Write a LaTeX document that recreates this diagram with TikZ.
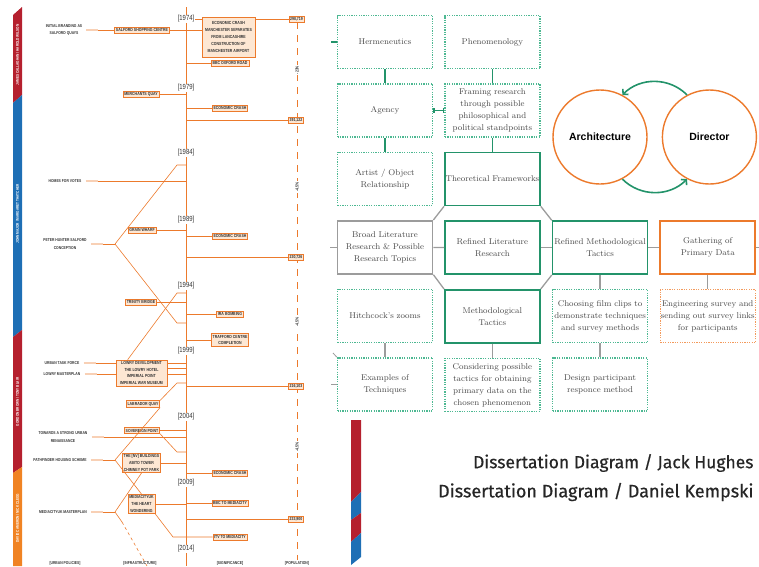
\documentclass[tikz,border=0pt]{standalone}
\usepackage{fontspec}
\usetikzlibrary{arrows.meta, positioning, calc}
\newfontfamily\tlfont{Liberation Sans}[FakeStretch=0.8]
\newfontfamily\circfont{Liberation Sans}
\newfontfamily\capfont{Fira Sans}[FakeBold=0.6]
\definecolor{greenA}{HTML}{23936A}
\definecolor{greenB}{HTML}{4DB892}
\definecolor{orangeA}{HTML}{EC7A2C}
\definecolor{orangeB}{HTML}{F39A5C}
\definecolor{greyA}{HTML}{9C9C9C}
\definecolor{peachC}{HTML}{FDE7D3}
\definecolor{ribRed}{HTML}{B5202E}
\definecolor{ribBlue}{HTML}{1E6FB5}
\definecolor{ribOrange}{HTML}{F08323}
\definecolor{inkT}{HTML}{333333}
\definecolor{inkG}{HTML}{4A4A4A}

\begin{document}
\begin{tikzpicture}[
  x=1pt, y=-1pt,
  tlbox/.style={
    draw=orangeA, fill=peachC, text=inkT,
    font=\fontsize{4.4}{6.8}\tlfont\bfseries,
    align=center, inner sep=1.3pt, line width=0.6pt
  },
  tltext/.style={
    text=inkT, font=\fontsize{4.2}{7.4}\tlfont\bfseries,
    align=center, inner sep=1pt
  },
  yearlbl/.style={fill=white, text=inkT, font=\fontsize{7.4}{8}\tlfont, inner sep=0.6pt},
  popchg/.style={fill=white, text=inkT, rotate=90, font=\fontsize{4.4}{5}\tlfont\bfseries, inner sep=1pt},
  ribtext/.style={text=white, rotate=90, font=\fontsize{3.9}{4}\tlfont\bfseries, inner sep=0pt},
  tlline/.style={draw=orangeA, line width=0.6pt},
  stubline/.style={draw=orangeA!35, line width=1.4pt, shorten <=3pt},
  popline/.style={draw=orangeA, line width=0.6pt, dash pattern=on 7pt off 6pt},
  dotbox/.style={
    draw=#1, line width=1.4pt, dash pattern=on 1.2pt off 1.2pt,
    minimum width=95pt, minimum height=53pt, text width=95pt,
    align=center, inner xsep=0pt, inner ysep=1pt, text=inkG,
    font=\fontsize{8.4}{12}\selectfont
  },
  solidbox/.style={
    draw=#1, line width=1.7pt,
    minimum width=95pt, minimum height=53pt, text width=95pt,
    align=center, inner xsep=0pt, inner ysep=1pt, text=inkG,
    font=\fontsize{8.4}{12}\selectfont
  },
  circ/.style={
    circle, draw=orangeA, line width=1.4pt, minimum size=94pt,
    font=\fontsize{10.5}{12}\circfont\bfseries, text=black
  },
  caption/.style={anchor=east, font=\fontsize{17.5}{20}\capfont, text=black!85},
  linkG/.style={draw=greenA, line width=1.5pt},
  linkS/.style={draw=greyA, line width=1.3pt},
  garr/.style={-{Straight Barb[length=3.5pt, width=8pt]}, draw=greenA, line width=1.6pt},
  node distance=14pt and 11pt
]
\useasboundingbox (0,0) rectangle (759,566);

%% ═══ TIMELINE — RIBBON ═══
\fill[ribRed]    (13,15) -- (22,7) -- (22,95) -- (13,103) -- cycle;
\fill[ribBlue]   (13,103) -- (22,95) -- (22,330) -- (13,337) -- cycle;
\fill[ribRed]    (13,337) -- (22,330) -- (22,467) -- (13,473) -- cycle;
\fill[ribOrange] (13,473) -- (22,467) -- (22,566) -- (13,566) -- cycle;
\node[ribtext] (pm1) at (17.5,55) {JAMES CALLAGHAN / HAROLD WILSON};
\node[ribtext] (pm2) at (17.5,214) {JOHN MAJOR / MARGARET THATCHER};
\node[ribtext] (pm3) at (17.5,402) {GORDON BROWN / TONY BLAIR};
\node[ribtext] (pm4) at (17.5,518) {DAVID CAMERON / NICK CLEGG};

%% ═══ TIMELINE — AXES ═══
\coordinate (axtop) at (186,7);
\coordinate (axbot) at (186,566);
\coordinate (axis) at (186,0);
\coordinate (poptop) at (297,22);
\coordinate (popbot) at (297,566);
\draw[tlline] (axtop) -- (axbot);
\draw[popline] (poptop) -- (popbot);

%% ═══ 1974 ═══
\node[yearlbl] (y74) at (186,19) {[1974]};
\node[tltext] (branding) at (64,30) {INITIAL BRANDING AS\\SALFORD QUAYS};
\node[tlbox] (salford) at (142,30) {SALFORD SHOPPING CENTRE};
\node[tlbox, minimum width=53pt, minimum height=40pt] (crash74) at (228.5,37)
  {ECONOMIC CRASH\\MANCHESTER SEPARATES\\FROM LANCASHIRE\\CONSTRUCTION OF\\MANCHESTER AIRPORT};
\node[tlbox] (pop74) at (296.5,19.5) {298,719};
\node[tlbox] (bbcox) at (230,63) {BBC OXFORD ROAD};
\draw[stubline] (branding.east) -- ++(15,0);
\draw[tlline] (branding.east) ++(15,0) -- (salford.west);
\draw[tlline] (salford.east) -- (salford.east -| crash74.west);
\draw[tlline] (y74.east) -- (crash74.west |- y74.east);
\draw[tlline] (crash74.east |- pop74) -- (pop74.west);
\draw[tlline] (bbcox.west -| axis) -- (bbcox.west);

%% ═══ 1979 ═══
\node[yearlbl] (y79) at (186,88) {[1979]};
\node[tlbox] (merchants) at (141,94.5) {MERCHANTS QUAY};
\draw[tlline] (merchants.east) -- (merchants.east -| axis);
\node[tlbox] (crash79) at (230,108) {ECONOMIC CRASH};
\draw[tlline] (crash79.west -| axis) -- (crash79.west);
\node[tlbox] (pop79) at (296,120) {391,122};
\draw[tlline] (pop79.west -| axis) -- (pop79.west);
\node[popchg] (chg1) at (297,70) {-23\%};

%% ═══ 1984 ═══
\node[yearlbl] (y84) at (186,153) {[1984]};
\node[tltext] (homes) at (65,181) {HOMES FOR VOTES};
\draw[stubline] (homes.east) -- ++(15,0);
\draw[tlline] (homes.east) ++(15,0) -- (homes.east -| axis);
\node[tltext] (peter) at (65,244) {PETER HUNTER SALFORD\\CONCEPTION};
\coordinate (peterfork) at (115,244);
\coordinate (peterS) at (177,165);
\coordinate (peterE) at (177,323);
\draw[stubline] (peter.east) -- ++(15,0);
\draw[tlline] (peter.east) ++(15,0) -- (peterfork);
\draw[tlline] (peterfork) -- (peterS) -- (peterS -| axis);
\draw[tlline] (peterfork) -- (peterE) -- (peterE -| axis);

%% ═══ 1989 ═══
\node[yearlbl] (y89) at (186,220) {[1989]};
\node[tlbox] (grain) at (142,230) {GRAIN WHARF};
\draw[tlline] (grain.east) -- (grain.east -| axis);
\node[tlbox] (crash89) at (230,236) {ECONOMIC CRASH};
\draw[tlline] (crash89.west -| axis) -- (crash89.west);
\node[tlbox] (pop89) at (296,257) {230,726};
\draw[tlline] (pop89.west -| axis) -- (pop89.west);
\node[popchg] (chg2) at (297,187) {-4.5\%};

%% ═══ 1994 ═══
\node[yearlbl] (y94) at (186,286) {[1994]};
\node[tlbox] (trinity) at (141,302) {TRINITY BRIDGE};
\draw[tlline] (trinity.east) -- (trinity.east -| axis);
\node[tlbox] (ira) at (230,314) {IRA BOMBING};
\draw[tlline] (ira.west -| axis) -- (ira.west);
\node[tlbox] (trafford) at (230,340) {TRAFFORD CENTRE\\COMPLETION};
\draw[tlline] (trafford.west -| axis) -- (trafford.west);

%% ═══ 1999 ═══
\node[yearlbl] (y99) at (186,351) {[1999]};
\node[tltext] (taskforce) at (62,363) {URBAN TASK FORCE};
\node[tltext] (lowrymp) at (62,374) {LOWRY MASTERPLAN};
\node[tlbox, minimum width=51pt] (lowry) at (141.5,373)
  {LOWRY DEVELOPMENT\\THE LOWRY HOTEL\\IMPERIAL POINT\\IMPERIAL WAR MUSEUM};
\draw[stubline] (taskforce.east) -- ++(15,0);
\draw[tlline] (taskforce.east) ++(15,0) -- (taskforce.east -| lowry.west);
\draw[stubline] (lowrymp.east) -- ++(15,0);
\draw[tlline] (lowrymp.east) ++(15,0) -- (lowrymp.east -| lowry.west);
\draw[tlline] (lowry.east |- taskforce) -- (taskforce -| axis);
\draw[tlline] (lowry.east |- lowrymp) -- (lowrymp -| axis);
\draw[tlline] ($(lowry.east |- taskforce)!0.5!(lowry.east |- lowrymp)$) -- ($(taskforce -| axis)!0.5!(lowrymp -| axis)$);
\coordinate (lowryS) at (177,293);
\draw[tlline] (lowry.north west) ++(12,0) -- (lowryS) -- (lowryS -| axis);
\node[tlbox] (pop99) at (296,386) {216,103};
\draw[tlline] (pop99.west -| axis) -- (pop99.west);
\node[tlbox] (labrador) at (143,404) {LABRADOR QUAY};
\coordinate (labS) at (177,383);
\draw[tlline] (labrador.north east) -- (labS) -- (labS -| axis);
\node[popchg] (chg3) at (297,322) {-4.5\%};

%% ═══ 2004 ═══
\node[yearlbl] (y04) at (186,417) {[2004]};
\node[tlbox] (sovereign) at (142,430.5) {SOVEREIGN POINT};
\draw[tlline] (sovereign.east) -- (sovereign.east -| axis);
\coordinate (sovE) at (177,452);
\draw[tlline] (sovereign.south east) -- (sovE) -- (sovE -| axis);
\node[tltext] (towards) at (63,437) {TOWARDS A STRONG URBAN\\RENAISSANCE};
\draw[stubline] (towards.east) -- ++(15,0);
\draw[tlline] (towards.east) ++(15,0) -- (towards.east -| axis);
\node[tltext] (pathfinder) at (60,460) {PATHFINDER HOUSING SCHEME};
\coordinate (pathfork) at (115,460);
\node[tlbox] (nvbuild) at (141.5,463) {THE [NV] BUILDINGS\\ABITO TOWER\\CHIMNEY POT PARK};
\draw[tlline] (nvbuild.east) -- (nvbuild.east -| axis);
\draw[stubline] (pathfinder.east) -- ++(15,0);
\draw[tlline] (pathfinder.east) ++(15,0) -- (pathfork);
\draw[tlline] (pathfork) -- (labrador.south east);
\node[tlbox] (crash09) at (230,473) {ECONOMIC CRASH};
\draw[tlline] (crash09.west -| axis) -- (crash09.west);
\node[popchg] (chg4) at (297,447) {-4.5\%};

%% ═══ 2009 ═══
\node[yearlbl] (y09) at (186,483) {[2009]};
\node[tlbox] (mediacity) at (141.5,504) {MEDIACITYUK\\THE HEART\\WONDERING};
\draw[tlline] (mediacity.east) -- (mediacity.east -| axis);
\draw[tlline] (pathfork) -- (mediacity.north);
\node[tlbox] (bbcmc) at (230,503) {BBC TO MEDIACITY};
\draw[tlline] (bbcmc.west -| axis) -- (bbcmc.west);
\node[tltext] (mcplan) at (63,512) {MEDIACITYUK MASTERPLAN};
\coordinate (mcfork) at (115,512);
\coordinate (mcdash) at (122,522);
\coordinate (mcend) at (147,566);
\draw[stubline] (mcplan.east) -- ++(15,0);
\draw[tlline] (mcplan.east) ++(15,0) -- (mcfork);
\draw[tlline] (mcfork) -- (nvbuild.south);
\draw[tlline] (mcfork) -- (mcdash);
\draw[tlline, dashed] (mcdash) -- (mcend);
\node[tlbox] (pop09) at (296,519) {233,900};
\draw[tlline] (pop09.west -| axis) -- (pop09.west);
\node[tlbox] (itv) at (230,537) {ITV TO MEDIACITY};
\coordinate (itvS) at (173,537);
\draw[tlline] (mediacity.south east) -- (itvS) -- (itv.west);

%% ═══ 2014 ═══
\node[yearlbl] (y14) at (186,549) {[2014]};
\node[tltext] (hdpol) at (65,563) {[URBAN POLICIES]};
\node[tltext] (hdinf) at (140,563) {[INFRASTRUCTURE]};
\node[tltext] (hdsig) at (230,563) {[SIGNIFICANCE]};
\node[tltext, fill=white] (hdpop) at (297,563) {[POPULATION]};

%% ═══ RESEARCH DIAGRAM ═══
\node[dotbox=greenB] (hermen) at (385,42) {Hermeneutics};
\node[dotbox=greenB, right=of hermen] (phenom) {Phenomenology};
\node[dotbox=greenB, below=of hermen] (agency) {Agency};
\node[dotbox=greenB, below=of phenom] (framing)
  {Framing research\\through possible\\philosophical and\\political standpoints};
\draw[linkG] (hermen) -- (agency);
\draw[linkG] (phenom) -- (framing);
\draw[linkG, {Bar[width=5pt]}-{Bar[width=5pt]}] (framing) -- (agency);

\node[dotbox=greenB, below=of agency] (artist) {Artist / Object\\Relationship};
\node[solidbox=greenA, below=of framing] (theory) {Theoretical Frameworks};
\draw[linkG] (agency) -- (artist);
\draw[linkG] (framing) -- (theory);

\node[solidbox=greyA, below=of artist] (broad)
  {Broad Literature\\Research \& Possible\\Research Topics};
\node[solidbox=greenA, below=of theory] (reflit) {Refined Literature\\Research};
\node[solidbox=greenA, right=of reflit] (refmeth) {Refined Methodological\\Tactics};
\node[solidbox=orangeA, right=of refmeth] (gather) {Gathering of\\Primary Data};
\coordinate (leftedge) at (330,0);
\coordinate (rightedge) at (759,0);
\draw[linkS] (broad.west) -- (broad.west -| leftedge);
\draw[linkS] (broad) -- (reflit);
\draw[linkS] (reflit) -- (refmeth);
\draw[linkS] (refmeth) -- (gather);
\draw[linkS] (gather.east) -- (gather.east -| rightedge);

\node[dotbox=greenB, below=of broad] (hitch) {Hitchcock's zooms};
\node[solidbox=greenA, below=of reflit] (methtac) {Methodological\\Tactics};
\node[dotbox=greenB, below=of refmeth] (choose)
  {Choosing film clips to\\demonstrate techniques\\and survey methods};
\node[dotbox=orangeB, below=of gather] (engin)
  {Engineering survey and\\sending out survey links\\for participants};

% octagon round the refined literature
\draw[linkS] (theory.south west) -- (broad.north east);
\draw[linkS] (theory.south east) -- (refmeth.north west);
\draw[linkS] (broad.south east) -- (methtac.north west);
\draw[linkS] (refmeth.south west) -- (methtac.north east);
\draw[linkS] (refmeth) -- (choose);
\draw[linkS] (gather) -- (engin);

\node[dotbox=greenB, below=of hitch] (examples) {Examples of\\Techniques};
\node[dotbox=greenB, below=of methtac] (consid)
  {Considering possible\\tactics for obtaining\\primary data on the\\chosen phenomenon};
\node[dotbox=greenB, below=of choose] (design) {Design participant\\responce method};
\draw[linkS] (hitch) -- (examples);
\draw[linkS] (methtac) -- (consid);
\draw[linkS] (choose) -- (design);

\coordinate (tickL) at (331,0);
\coordinate (cutL) at (333,353);
\draw[linkG] (hermen.west) -- (hermen.west -| tickL);
\draw[linkS] (examples.west) -- (examples.west -| tickL);
\draw[linkS, line width=0.8pt] (examples.north west) -- (cutL);

%% ═══ ARCHITECTURE / DIRECTOR ═══
\node[circ] (arch) at (600,137) {Architecture};
\node[circ, right=14pt of arch] (dir) {Director};
\draw[garr] (dir.118) to[bend right=45] (arch.62);
\draw[garr] (arch.-62) to[bend right=45] (dir.-118);

%% ═══ CAPTIONS ═══
\fill[ribRed]  (351,420) -- (361,420) -- (361,492) -- (351,502) -- cycle;
\fill[ribBlue] (351,502) -- (361,492) -- (361,513) -- (351,520) -- cycle;
\fill[ribRed]  (351,520) -- (361,513) -- (361,533) -- (351,542) -- cycle;
\fill[ribBlue] (351,542) -- (361,533) -- (361,557) -- (351,565) -- cycle;

\node[caption] (cap1) at (757,463) {Dissertation Diagram / Jack Hughes};
\node[caption, font=\fontsize{18}{20}\capfont] (cap2) at (757,492)
  {Dissertation Diagram / Daniel Kempski};

\end{tikzpicture}
\end{document}
